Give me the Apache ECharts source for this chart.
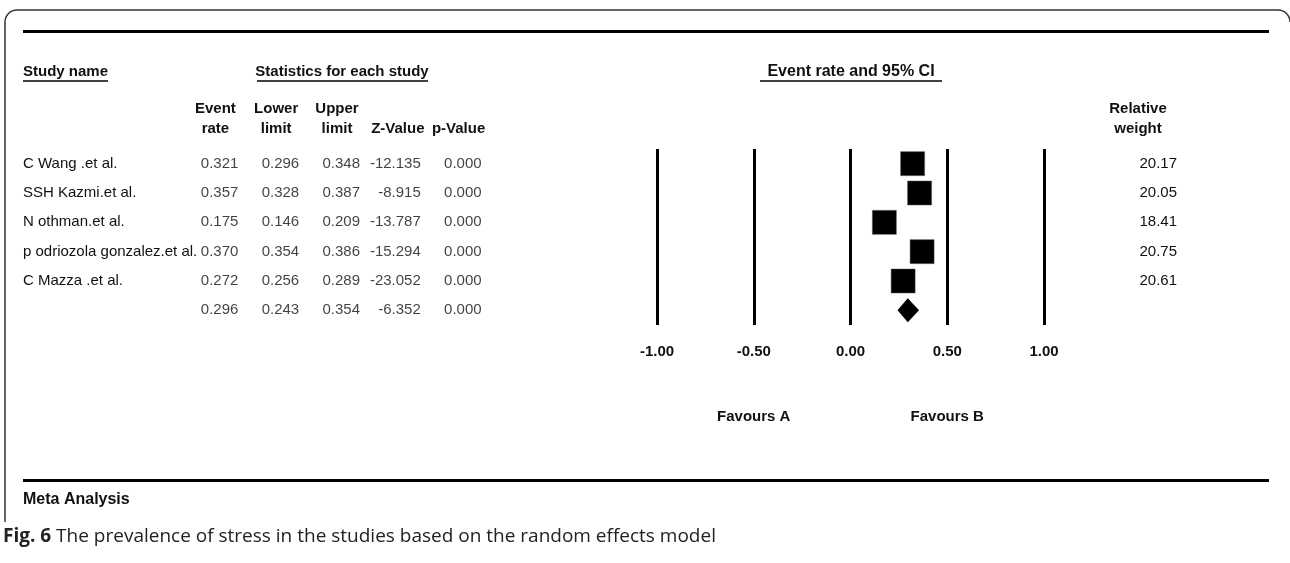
<!DOCTYPE html>
<html>
<head>
<meta charset="utf-8">
<script src="https://cdn.jsdelivr.net/npm/echarts@6/dist/echarts.min.js"></script>
<style>
  html, body { margin: 0; padding: 0; background: #fff; }
  #chart { width: 1290px; height: 563px; }
</style>
</head>
<body>
<div id="chart"></div>
<script>
// forest plot data
const studies = ['C Wang .et al.', 'SSH Kazmi.et al.', 'N othman.et al.', 'p odriozola gonzalez.et al.', 'C Mazza .et al.']
const eventRate = [0.321, 0.357, 0.175, 0.370, 0.272]
const lowerLimit = [0.296, 0.328, 0.146, 0.354, 0.256]
const upperLimit = [0.348, 0.387, 0.209, 0.386, 0.289]
const zValue = [-12.135, -8.915, -13.787, -15.294, -23.052]
const pValue = [0.000, 0.000, 0.000, 0.000, 0.000]
const relWeight = [20.17, 20.05, 18.41, 20.75, 20.61]
// pooled (random effects): event rate, lower, upper, z, p
const pooled = [0.296, 0.243, 0.354, -6.352, 0.000]
const statColumns = ['Event\nrate', 'Lower\nlimit', 'Upper\nlimit', 'Z-Value', 'p-Value']
const axisMin = -1
const axisMax = 1
const axisStep = 0.5
const favourLabels = ['Favours A', 'Favours B']

const rows = [...studies, '']
const tableCols = [eventRate, lowerLimit, upperLimit, zValue, pValue].map((col, c) => [...col, pooled[c]])

const FONT = '"Liberation Sans", Arial, sans-serif'
const INK = '#111'

const rowTop = 149
const rowHeight = 176

const tableSeries = tableCols.map((col, c) => ({
  type: 'scatter',
  xAxisIndex: 0,
  yAxisIndex: 0,
  symbolSize: 0,
  silent: true,
  data: col.map((v, r) => [c, r, v]),
  label: {
    show: true,
    position: 'inside',
    align: 'right',
    offset: [23, 0],
    formatter: p => p.value[2].toFixed(3),
    color: INK,
    fontFamily: FONT,
    fontSize: 15
  }
}))

const chart = echarts.init(document.getElementById('chart'))

chart.setOption({
  animation: false,
  backgroundColor: '#fff',
  grid: [
    { left: 185, width: 304, top: rowTop, height: rowHeight },
    { left: 657, width: 387, top: rowTop, height: rowHeight }
  ],
  xAxis: [
    {
      gridIndex: 0,
      type: 'category',
      position: 'top',
      data: statColumns,
      axisLine: { show: false },
      axisTick: { show: false },
      axisLabel: {
        interval: 0,
        margin: 10,
        color: INK,
        fontFamily: FONT,
        fontSize: 15,
        fontWeight: 'bold',
        lineHeight: 20
      }
    },
    {
      gridIndex: 1,
      type: 'value',
      min: axisMin,
      max: axisMax,
      interval: axisStep,
      axisLine: { show: false },
      axisTick: { show: false },
      splitLine: { show: true, lineStyle: { color: '#000', width: 3 } },
      axisLabel: {
        margin: 19,
        color: INK,
        fontFamily: FONT,
        fontSize: 15,
        fontWeight: 'bold',
        formatter: v => v.toFixed(2)
      }
    },
    {
      gridIndex: 1,
      type: 'value',
      min: axisMin,
      max: axisMax,
      interval: axisStep,
      position: 'bottom',
      axisLine: { show: false },
      axisTick: { show: false },
      splitLine: { show: false },
      axisLabel: {
        margin: 84,
        color: INK,
        fontFamily: FONT,
        fontSize: 15,
        fontWeight: 'bold',
        formatter: v => v === -0.5 ? favourLabels[0] : v === 0.5 ? favourLabels[1] : ''
      }
    }
  ],
  yAxis: [
    {
      gridIndex: 0,
      type: 'category',
      inverse: true,
      data: rows,
      axisLine: { show: false },
      axisTick: { show: false },
      axisLabel: {
        interval: 0,
        align: 'left',
        margin: 162,
        color: INK,
        fontFamily: FONT,
        fontSize: 15
      }
    },
    {
      gridIndex: 1,
      type: 'category',
      inverse: true,
      data: rows,
      show: false
    },
    {
      gridIndex: 1,
      type: 'category',
      inverse: true,
      position: 'right',
      data: rows.map((r, i) => i < relWeight.length ? relWeight[i].toFixed(2) : ''),
      axisLine: { show: false },
      axisTick: { show: false },
      axisLabel: {
        interval: 0,
        align: 'right',
        margin: 133,
        color: INK,
        fontFamily: FONT,
        fontSize: 15
      }
    }
  ],
  series: [
    ...tableSeries,
    {
      // confidence interval whiskers (hidden behind the boxes)
      type: 'custom',
      xAxisIndex: 1,
      yAxisIndex: 1,
      silent: true,
      z: 1,
      data: studies.map((s, i) => [lowerLimit[i], upperLimit[i], i]),
      encode: { x: [0, 1], y: 2 },
      renderItem: (params, api) => {
        const a = api.coord([api.value(0), api.value(2)])
        const b = api.coord([api.value(1), api.value(2)])
        return { type: 'line', shape: { x1: a[0], y1: a[1], x2: b[0], y2: b[1] }, style: { stroke: '#000', lineWidth: 1.5 } }
      }
    },
    {
      type: 'scatter',
      xAxisIndex: 1,
      yAxisIndex: 1,
      silent: true,
      z: 3,
      symbol: 'rect',
      symbolSize: 24,
      itemStyle: { color: '#000', opacity: 1, borderColor: '#555', borderWidth: 0.5 },
      data: eventRate.map((v, i) => [v, i])
    },
    {
      type: 'custom',
      xAxisIndex: 1,
      yAxisIndex: 1,
      silent: true,
      z: 3,
      data: [[pooled[1], pooled[2], pooled[0], studies.length]],
      encode: { x: [0, 1, 2], y: 3 },
      renderItem: (params, api) => {
        const l = api.coord([api.value(0), api.value(3)])
        const u = api.coord([api.value(1), api.value(3)])
        const e = api.coord([api.value(2), api.value(3)])
        const h = 12
        return {
          type: 'polygon',
          shape: { points: [[l[0], e[1]], [e[0], e[1] - h], [u[0], e[1]], [e[0], e[1] + h]] },
          style: { fill: '#000' }
        }
      }
    }
  ],
  graphic: [
    // figure frame
    { type: 'line', shape: { x1: 5, y1: 22, x2: 5, y2: 522 }, style: { stroke: '#333', lineWidth: 1.5 } },
    { type: 'arc', shape: { cx: 17, cy: 22, r: 12, startAngle: Math.PI, endAngle: Math.PI * 1.5 }, style: { stroke: '#333', lineWidth: 1.5, fill: null } },
    { type: 'line', shape: { x1: 17, y1: 10, x2: 1278, y2: 10 }, style: { stroke: '#333', lineWidth: 1.5 } },
    { type: 'arc', shape: { cx: 1278, cy: 22, r: 12, startAngle: Math.PI * 1.5, endAngle: Math.PI * 2 }, style: { stroke: '#333', lineWidth: 1.5, fill: null } },
    // heavy rules
    { type: 'rect', shape: { x: 23, y: 30, width: 1246, height: 3 }, style: { fill: '#000' } },
    { type: 'rect', shape: { x: 23, y: 479, width: 1246, height: 3 }, style: { fill: '#000' } },
    // column group headers
    { type: 'text', style: { text: 'Study name', x: 23, y: 72, font: 'bold 15px ' + FONT, fill: INK, verticalAlign: 'middle' } },
    { type: 'line', shape: { x1: 23, y1: 81, x2: 108, y2: 81 }, style: { stroke: '#000', lineWidth: 1.5 } },
    { type: 'text', style: { text: 'Statistics for each study', x: 342, y: 72, font: 'bold 15px ' + FONT, fill: INK, align: 'center', verticalAlign: 'middle' } },
    { type: 'line', shape: { x1: 257, y1: 81, x2: 428, y2: 81 }, style: { stroke: '#000', lineWidth: 1.5 } },
    { type: 'text', style: { text: 'Event rate and 95% CI', x: 851, y: 72, font: 'bold 16px ' + FONT, fill: INK, align: 'center', verticalAlign: 'middle' } },
    { type: 'line', shape: { x1: 760, y1: 81, x2: 942, y2: 81 }, style: { stroke: '#000', lineWidth: 1.5 } },
    { type: 'text', style: { text: 'Relative\nweight', x: 1138, y: 119, font: 'bold 15px ' + FONT, lineHeight: 20, fill: INK, align: 'center', verticalAlign: 'middle' } },
    // footer
    { type: 'text', style: { text: 'Meta Analysis', x: 23, y: 500, font: 'bold 16px ' + FONT, fill: INK, verticalAlign: 'middle' } },
    {
      type: 'text',
      style: {
        x: 3,
        y: 537,
        verticalAlign: 'middle',
        text: '{b|Fig. 6} The prevalence of stress in the studies based on the random effects model',
        font: '19px "Open Sans", sans-serif',
        fill: '#222',
        rich: { b: { fontFamily: '"Open Sans", sans-serif', fontWeight: 'bold', fontSize: 19, fill: '#222' } }
      }
    }
  ]
})
</script>
</body>
</html>
